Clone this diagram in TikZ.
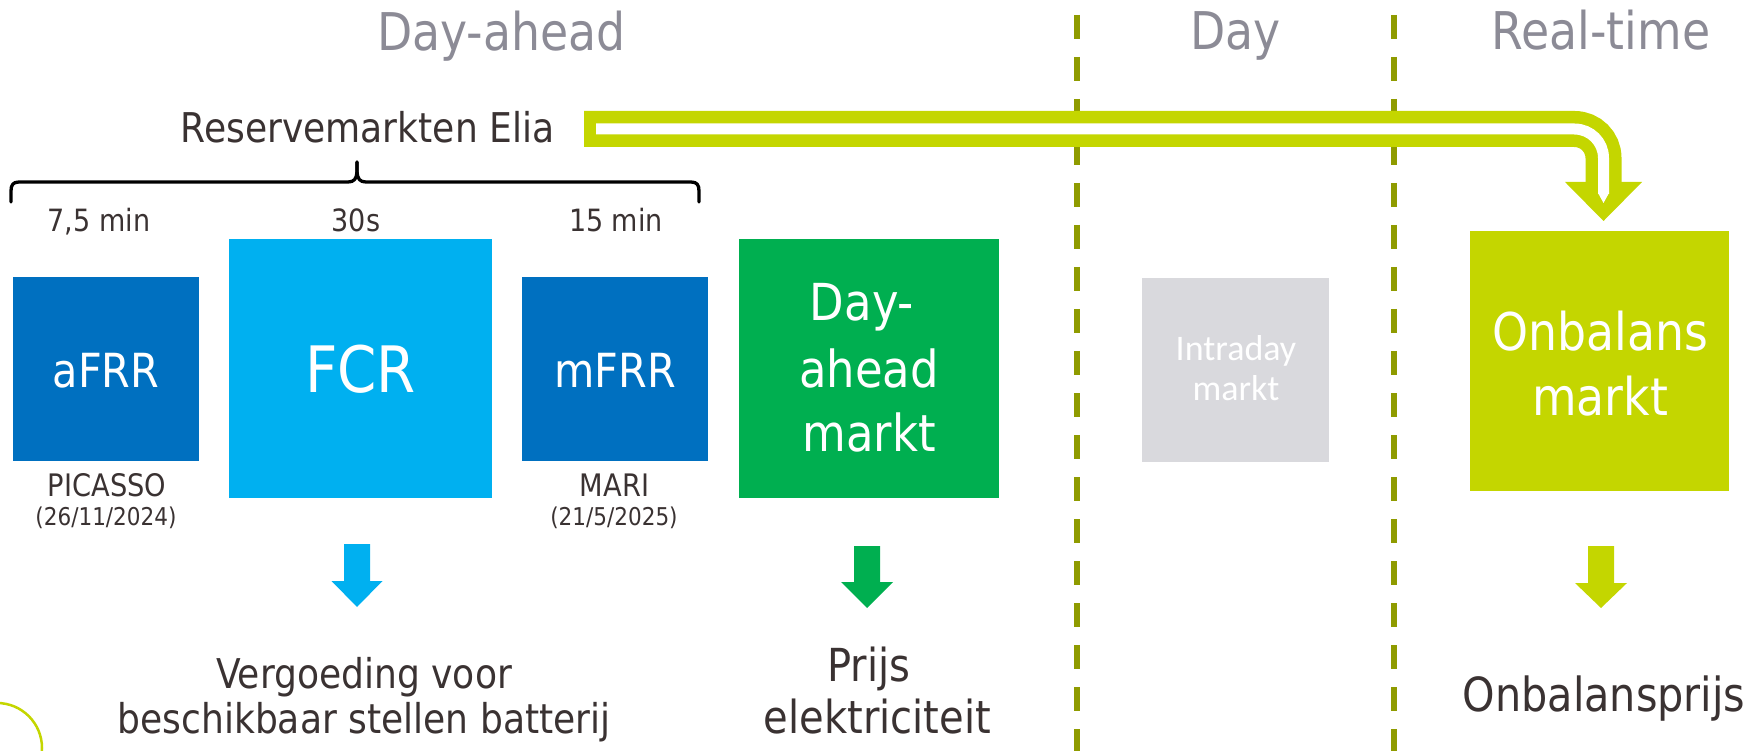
\documentclass[tikz,border=0pt]{standalone}
\usepackage{fontspec}
\setmainfont{DejaVu Sans}[FakeStretch=0.88]
\newfontfamily\calfont{Carlito}
\definecolor{titlegray}{HTML}{8C8B96}
\definecolor{dashol}{HTML}{8F9B00}
\definecolor{lime}{HTML}{C4D600}
\definecolor{dblue}{HTML}{0070C0}
\definecolor{lblue}{HTML}{00B0F0}
\definecolor{dgreen}{HTML}{00AF50}
\definecolor{igray}{HTML}{D9D9DD}
\definecolor{txt}{HTML}{3A3232}
\newcommand\fsz[1]{\fontsize{#1}{#1}\selectfont}
\tikzset{
  lbl/.style={anchor=base, inner sep=0pt, outer sep=0pt},
  title/.style={lbl, text=titlegray, font=\fsz{52}},
  box/.style={anchor=north west, inner sep=0pt, outer sep=0pt, draw=none},
  sep/.style={draw=dashol, line width=6.5pt, dash pattern=on 24pt off 18pt},
  bracestroke/.style={line width=3.3pt, line cap=round, line join=round},
}
\begin{document}
\begin{tikzpicture}[x=1pt,y=-1pt]
\useasboundingbox (0,0) rectangle (1754,751);
% separators
\coordinate (s1t) at (1077,15); \coordinate (s1b) at (1077,760);
\coordinate (s2t) at (1394,15); \coordinate (s2b) at (1394,760);
\draw[sep] (s1t) -- (s1b);
\draw[sep] (s2t) -- (s2b);
% titles
\node[title] (tda) at (501.5,51) {Day-ahead};
\node[title] (tday) at (1235.5,50) {Day};
\node[title] (trt) at (1601,50) {Real-time};
% reserve markets
\node[lbl, text=txt, font=\fsz{41}] (rm) at (367.5,143) {Reservemarkten Elia};
% big bent arrow
\coordinate (ba) at (584,129);
\coordinate (bw) at (596,129);
\coordinate (bc) at (1603.5,129);
\coordinate (bd) at (1603.5,184);
\coordinate (bwd) at (1603.5,194);
\draw[lime, line width=36pt, rounded corners=29pt] (ba) -- (bc) -- (bd);
\fill[lime] (1565,182) -- (1642,182) -- (1603.5,221) -- cycle;
\draw[white, line width=11pt, rounded corners=29pt] (bw) -- (bc) -- (bwd);
\fill[white] (1598,193) -- (1609,193) -- (1603.5,203) -- cycle;
% brace
\draw[bracestroke]
  (11,202) -- (11,191) .. controls (11,185) and (13,182) .. (19,182) -- (348,182)
  .. controls (354,182) and (356.5,179) .. (357,172) -- (357,162);
\draw[bracestroke]
  (357,162) -- (357,172) .. controls (357.5,179) and (360,182) .. (366,182) -- (691,182)
  .. controls (697,182) and (699,185) .. (699,191) -- (699,202);
% time labels
\node[lbl, text=txt, font=\fsz{30.7}] (t1) at (99,232) {7,5 min};
\node[lbl, text=txt, font=\fsz{30.7}] (t2) at (356,232) {30s};
\node[lbl, text=txt, font=\fsz{30.7}] (t3) at (616,232) {15 min};
% boxes
\node[box, fill=dblue, minimum width=186pt, minimum height=184pt] (afrr) at (13,277) {};
\node[box, fill=lblue, minimum width=263pt, minimum height=259pt] (fcr) at (229,239) {};
\node[box, fill=dblue, minimum width=186pt, minimum height=184pt] (mfrr) at (522,277) {};
\node[box, fill=dgreen, minimum width=260pt, minimum height=259pt] (dam) at (739,239) {};
\node[box, fill=igray, minimum width=187pt, minimum height=184pt] (idm) at (1142,278) {};
\node[box, fill=lime, minimum width=259pt, minimum height=260pt] (obm) at (1470,231) {};
% box texts
\node[lbl, text=white, font=\fsz{47}] (afrrt) at (106,387) {aFRR};
\node[lbl, text=white, font=\fsz{64}] (fcrt) at (360.5,392) {FCR};
\node[lbl, text=white, font=\fsz{47}] (mfrrt) at (615,387) {mFRR};
\node[lbl, text=white, font=\fsz{51}] (dam1) at (862,321) {Day-};
\node[lbl, text=white, font=\fsz{51}] (dam2) at (869,387) {ahead};
\node[lbl, text=white, font=\fsz{51}] (dam3) at (869,451) {markt};
\node[lbl, text=white, font=\calfont\fsz{36}] (idm1) at (1236,360) {Intraday};
\node[lbl, text=white, font=\calfont\fsz{36}] (idm2) at (1236,400) {markt};
\node[lbl, text=white, font=\fsz{52}] (obm1) at (1600,351) {Onbalans};
\node[lbl, text=white, font=\fsz{52}] (obm2) at (1600,415) {markt};
% platform labels
\node[lbl, text=txt, font=\fsz{31}] (pic) at (107,496) {PICASSO};
\node[lbl, text=txt, font=\fsz{24.5}] (picd) at (106,525) {(26/11/2024)};
\node[lbl, text=txt, font=\fsz{31}] (mari) at (614.5,496) {MARI};
\node[lbl, text=txt, font=\fsz{24.5}] (marid) at (614,525) {(21/5/2025)};
% down arrows
\fill[lblue] (344,544) -- (370,544) -- (370,581) -- (382.5,581) -- (357,607) -- (331.5,581) -- (344,581) -- cycle;
\fill[dgreen] (854,546) -- (880,546) -- (880,582) -- (893,582) -- (867,608) -- (841,582) -- (854,582) -- cycle;
\fill[lime] (1588,546) -- (1614,546) -- (1614,583) -- (1627,583) -- (1601,608) -- (1575,583) -- (1588,583) -- cycle;
% results
\node[lbl, text=txt, font=\fsz{41}] (r1a) at (364,688) {Vergoeding voor};
\node[lbl, text=txt, font=\fsz{41}] (r1b) at (364,733) {beschikbaar stellen batterij};
\node[lbl, text=txt, font=\fsz{45.5}] (r2a) at (869,681) {Prijs};
\node[lbl, text=txt, font=\fsz{45.5}] (r2b) at (877.5,733) {elektriciteit};
\node[lbl, text=txt, font=\fsz{47}] (r3) at (1604,711) {Onbalansprijs};
% decorative circle
\begin{scope}
\clip (0,0) rectangle (1754,751);
\draw[lime, line width=2.5pt] (-3,748) circle[radius=45];
\end{scope}
\end{tikzpicture}
\end{document}
